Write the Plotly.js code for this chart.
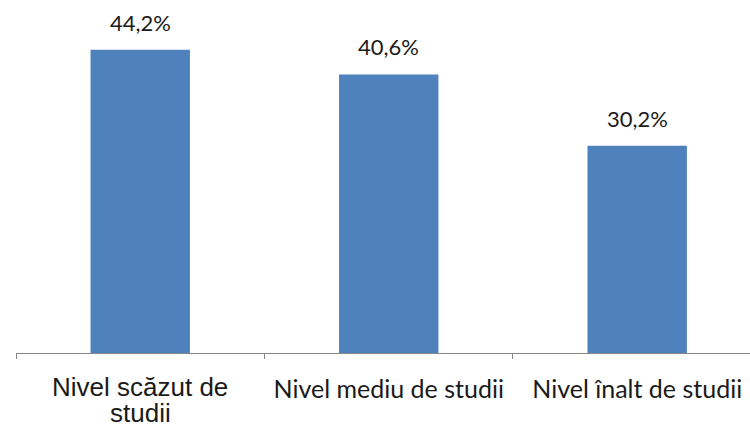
<!DOCTYPE html>
<html>
<head>
<meta charset="utf-8">
<script src="https://cdn.plot.ly/plotly-3.0.1.min.js"></script>
<style>html,body{margin:0;padding:0;background:#fff;}#chart{width:750px;height:426px;}</style>
</head>
<body>
<div id="chart"></div>
<script>
var categories = ["Nivel scăzut de studii", "Nivel mediu de studii", "Nivel înalt de studii"];
var tickLabels = ["Nivel scăzut de<br>studii", "Nivel mediu de studii", "Nivel înalt de studii"];
var values = [44.2, 40.6, 30.2];

var trace = {
  type: 'bar',
  x: categories,
  y: values,
  width: 0.4,
  marker: {color: '#4F81BD'},
  hoverinfo: 'none'
};

var annotations = categories.map(function (c, i) {
  return {
    x: c, y: values[i], xref: 'x', yref: 'y',
    text: values[i].toFixed(1).replace('.', ',') + '%',
    showarrow: false, yanchor: 'bottom', yshift: 12,
    font: {family: 'Lato, sans-serif', size: 22, color: '#1a1a1a'}
  };
});

// First category label is drawn in a different (Arial-like) font, one annotation per line
var firstLines = tickLabels[0].split('<br>');
firstLines.forEach(function (line, k) {
  annotations.push({
    x: categories[0], y: 0, xref: 'x', yref: 'paper',
    text: line, showarrow: false, yanchor: 'middle',
    yshift: -34 - 26 * k,
    font: {family: 'Liberation Sans, Arial, sans-serif', size: 26, color: '#1a1a1a'}
  });
});

var axisTickText = tickLabels.map(function (t, i) { return i === 0 ? ' ' : t; });

var layout = {
  width: 750, height: 426,
  margin: {l: 16, r: 0, t: 9.5, b: 73, pad: 0},
  paper_bgcolor: '#fff', plot_bgcolor: '#fff',
  showlegend: false,
  annotations: annotations,
  xaxis: {
    type: 'category',
    range: [-0.5, 2.454],
    tickmode: 'array',
    tickvals: categories,
    ticktext: axisTickText,
    tickson: 'boundaries',
    ticks: 'outside', ticklen: 5, tickcolor: '#868686', tickwidth: 1,
    ticklabelstandoff: 14,
    showline: true, linecolor: '#868686', linewidth: 1,
    showgrid: false, zeroline: false,
    tickangle: 0,
    tickfont: {family: 'Lato, sans-serif', size: 25, color: '#1a1a1a'}
  },
  yaxis: {
    range: [0, 50],
    visible: false,
    showgrid: false, zeroline: false
  }
};

Plotly.newPlot('chart', [trace], layout, {displayModeBar: false, staticPlot: true});
</script>
</body>
</html>
